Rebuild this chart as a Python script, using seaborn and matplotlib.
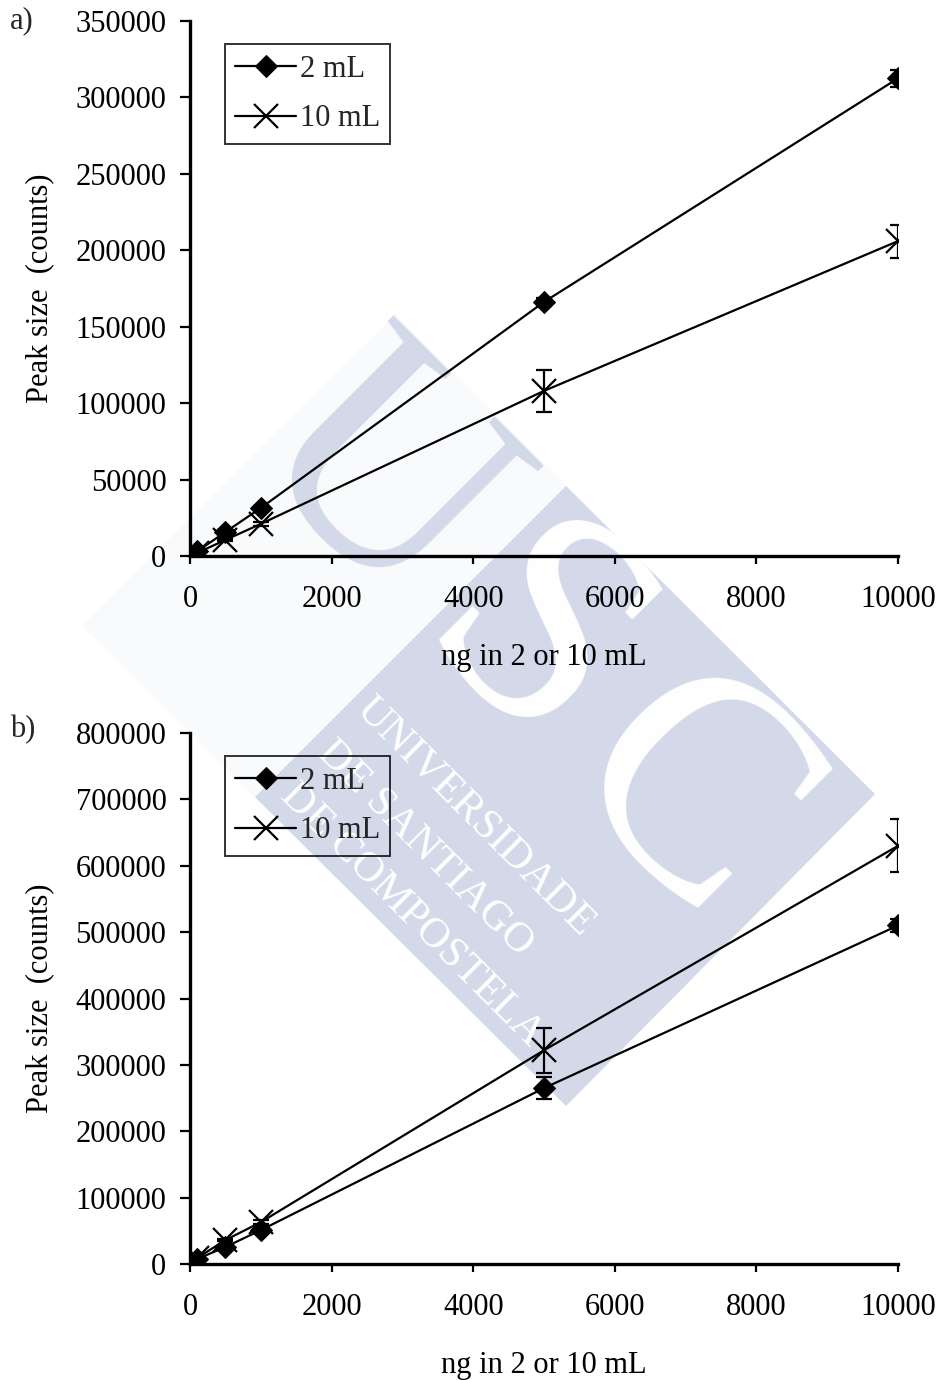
import numpy as np
import pandas as pd
import matplotlib
matplotlib.use("Agg")
import matplotlib.pyplot as plt
from matplotlib.patches import Polygon
import seaborn as sns

# ---- data ----
x_ng = [100, 500, 1000, 5000, 10000]

a_2ml = [3000, 15700, 31400, 166200, 312500]
a_2ml_err = [800, 1000, 1500, 2500, 5500]
a_10ml = [2000, 10500, 21000, 108000, 206000]
a_10ml_err = [500, 800, 1500, 13500, 10800]

b_2ml = [7500, 25600, 51000, 265000, 510000]
b_2ml_err = [1000, 2000, 3000, 17000, 10000]
b_10ml = [9000, 36000, 63000, 322000, 630000]
b_10ml_err = [1000, 2000, 3000, 34000, 40000]

series_labels = ["2 mL", "10 mL"]
panel_labels = ["a)", "b)"]
a_yticks = [0, 50000, 100000, 150000, 200000, 250000, 300000, 350000]
b_yticks = [0, 100000, 200000, 300000, 400000, 500000, 600000, 700000, 800000]
xticks = [0, 2000, 4000, 6000, 8000, 10000]
xlabel = "ng in 2 or 10 mL"
ylabel = "Peak size  (counts)"
watermark_lines = ["UNIVERSIDADE", "DE SANTIAGO", "DE COMPOSTELA"]

sns.set_theme(style="ticks")
plt.rcParams["font.family"] = ["Liberation Serif", "DejaVu Serif"]

fig = plt.figure(figsize=(9.42, 13.8), dpi=100)
W, H = 942, 1380

def fxy(x, y):
    return (x / W, 1 - y / H)

# ---- faint background watermark (USC logo) ----
wm_blue = "#d3d9e8"
pale = [(82, 626), (395, 314), (875, 794), (566, 1106)]
fig.patches.append(Polygon([fxy(x, y) for x, y in pale], closed=True,
                           transform=fig.transFigure, facecolor="#f9fafc",
                           edgecolor="none", zorder=-4))
wm = [(566, 486), (875, 794), (566, 1106), (255, 797)]
fig.patches.append(Polygon([fxy(x, y) for x, y in wm], closed=True,
                           transform=fig.transFigure, facecolor=wm_blue,
                           edgecolor="none", zorder=-3))
for ch, (cx, cy), col in [("U", (374, 486), wm_blue), ("S", (526, 652), "white"),
                           ("C", (680, 806), "white")]:
    fig.text(*fxy(cx, cy), ch, color=col, rotation=-45, rotation_mode="anchor",
             ha="center", va="center", fontsize=225, family="Liberation Serif",
             zorder=-2)
for line, (sx, sy) in zip(watermark_lines, [(375, 690), (337, 733), (300, 776)]):
    fig.text(*fxy(sx, sy), line, color="white", rotation=-45, rotation_mode="anchor",
             ha="left", va="top", fontsize=31, zorder=-1)

def px_axes(l, r, t, b):
    return [l / W, 1 - b / H, (r - l) / W, (b - t) / H]

ax_a = fig.add_axes(px_axes(190, 898, 21, 556))
ax_b = fig.add_axes(px_axes(190, 898, 733, 1264))

fs = 22
styles = {
    "2 mL": dict(marker="D", markersize=11, markerfacecolor="black", markeredgecolor="black"),
    "10 mL": dict(marker="x", markersize=17, markeredgewidth=1.6, markeredgecolor="black"),
}
panels = [
    (ax_a, a_2ml, a_2ml_err, a_10ml, a_10ml_err, a_yticks, panel_labels[0], 21),
    (ax_b, b_2ml, b_2ml_err, b_10ml, b_10ml_err, b_yticks, panel_labels[1], 730),
]
for ax, y2, e2, y10, e10, yt, plabel, ly in panels:
    ax.set_facecolor("none")
    df = pd.DataFrame({
        "x": x_ng * 2,
        "y": y2 + y10,
        "err": e2 + e10,
        "series": [series_labels[0]] * len(x_ng) + [series_labels[1]] * len(x_ng),
    })
    for s in series_labels:
        d = df[df["series"] == s]
        sns.lineplot(data=d, x="x", y="y", color="black", linewidth=1.6,
                     label=s, ax=ax, zorder=3, **styles[s])
        ax.errorbar(d["x"], d["y"], yerr=d["err"], fmt="none", ecolor="black",
                    elinewidth=1.6, capsize=5.5, capthick=1.6, zorder=2)
    ax.set_xlim(0, 10000)
    ax.set_ylim(yt[0], yt[-1])
    ax.set_xticks(xticks)
    ax.set_yticks(yt)
    ax.set_xticklabels([str(v) for v in xticks])
    ax.set_yticklabels([str(v) for v in yt])
    ax.tick_params(axis="both", direction="out", labelsize=fs, colors="black", width=1.6)
    ax.tick_params(axis="y", length=7, pad=10)
    ax.tick_params(axis="x", length=6, pad=15)
    for sp in ["top", "right"]:
        ax.spines[sp].set_visible(False)
    for sp in ["left", "bottom"]:
        ax.spines[sp].set_linewidth(2.4)
        ax.spines[sp].set_color("black")
    ax.set_xlabel(xlabel, fontsize=fs, labelpad=21, color="black")
    ax.set_ylabel(ylabel, fontsize=fs, labelpad=15, color="black")
    leg = ax.legend(title=None, loc="upper left", bbox_to_anchor=(0.049, 0.957),
                    borderaxespad=0, fontsize=fs, frameon=True, fancybox=False,
                    handlelength=2.0, handletextpad=0.1, labelspacing=0.68,
                    borderpad=0.35)
    leg.get_frame().set_edgecolor("black")
    leg.get_frame().set_linewidth(1.4)
    leg.get_frame().set_facecolor("none")
    fig.text(10 / W, 1 - ly / H, plabel, fontsize=fs, ha="left", va="center")

fig.savefig("out.png", dpi=100)
